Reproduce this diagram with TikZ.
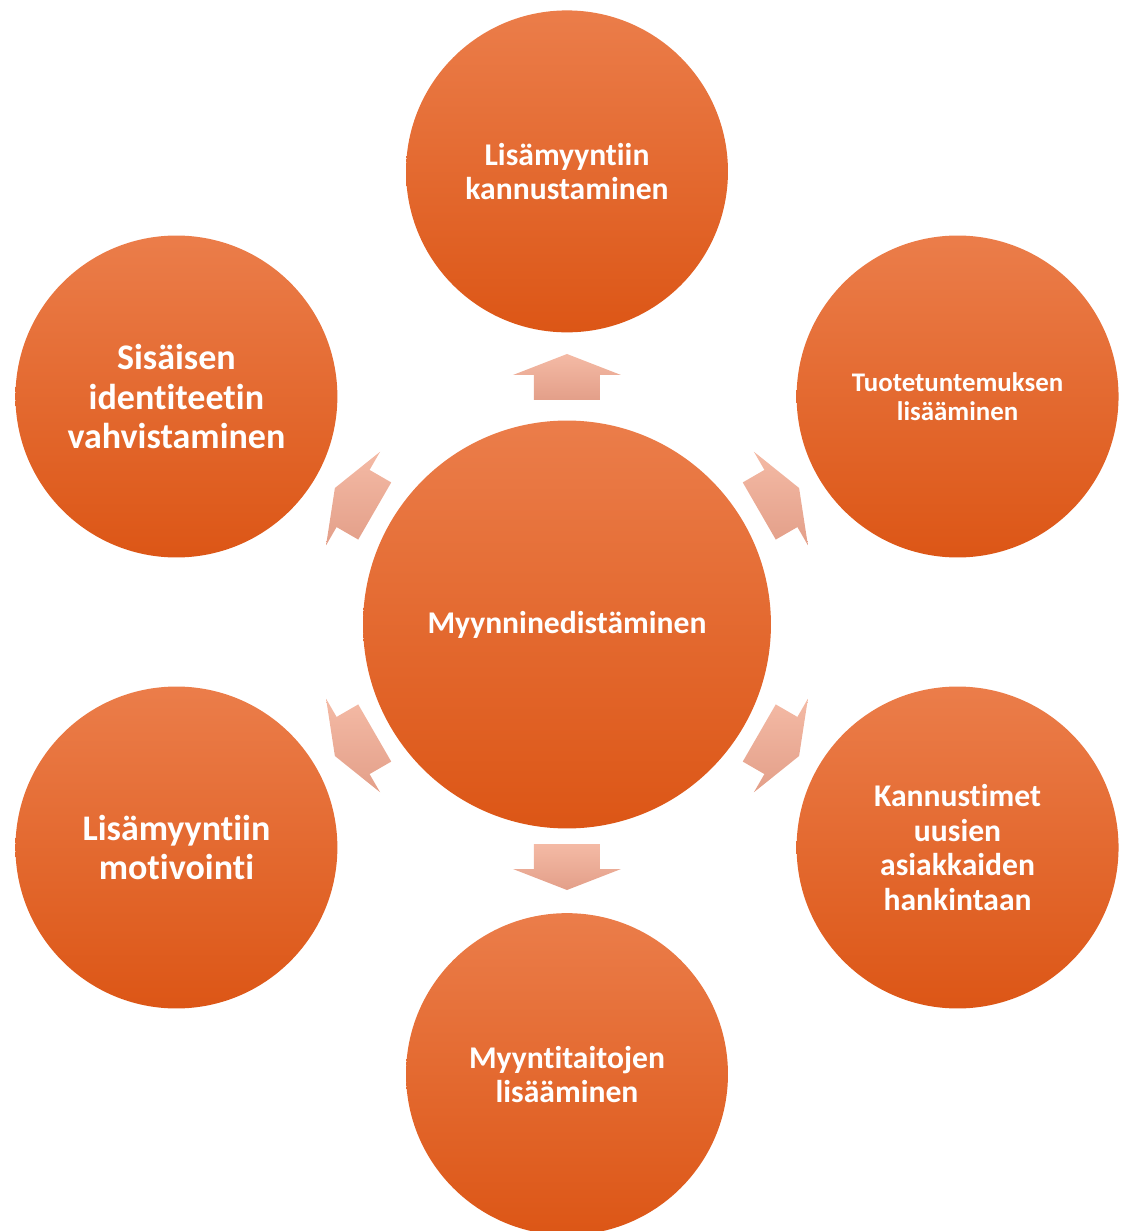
\documentclass[tikz,border=0pt]{standalone}
\usepackage{fontspec}
\setmainfont{Carlito}[RawFeature={-liga,-dlig,-clig,-calt}]
\usetikzlibrary{positioning,calc}

\definecolor{balltop}{HTML}{EB7D4A}
\definecolor{ballmid}{HTML}{EE6A2A}
\definecolor{ballbot}{HTML}{DC5616}
\definecolor{arrowtop}{HTML}{F4BAA5}
\definecolor{arrowbot}{HTML}{E39F89}

\tikzset{
  ball/.style={circle, inner sep=0pt, align=center, text=white,
    font=\bfseries, top color=balltop, middle color=ballmid, bottom color=ballbot},
  hub/.style={ball, minimum size=8.16cm},
  topic/.style={ball, minimum size=6.44cm}
}

\begin{document}
\begin{tikzpicture}[x=0.02cm,y=0.02cm]
	\useasboundingbox (-567,-609) rectangle (554,622);

	% centre and the six topics around it
	\node (hub) [hub, font=\bfseries\fontsize{18}{21}\selectfont, yshift=-0.05cm] {Myynninedistäminen};
	\node (up) [topic, above=1.75cm of hub, font=\bfseries\fontsize{18}{19.4}\selectfont]
		{Lisämyyntiin\\kannustaminen};
	\node (down) [topic, below=1.68cm of hub, font=\bfseries\fontsize{18}{19.4}\selectfont]
		{Myyntitaitojen\\lisääminen};
	\node (upr) [topic, font=\bfseries\fontsize{15.3}{16.5}\selectfont] at (30:451)
		{Tuotetuntemuksen\\lisääminen};
	\node (downr) [topic, font=\bfseries\fontsize{18}{19.7}\selectfont] at (-30:451)
		{Kannustimet\\uusien\\asiakkaiden\\hankintaan};
	\node (upl) [topic, font=\bfseries\fontsize{20.5}{22.5}\selectfont] at (150:451)
		{Sisäisen\\identiteetin\\vahvistaminen};
	\node (downl) [topic, font=\bfseries\fontsize{20.5}{22.2}\selectfont] at (-150:451)
		{Lisämyyntiin\\motivointi};

	% block arrows pointing outwards, light on top
	\foreach \a in {90,30,-30,-90,-150,150}
		\shade[top color=arrowtop, bottom color=arrowbot]
			($(\a:222)+(\a-90:33)$) -- ($(\a:247)+(\a-90:33)$) -- ($(\a:247)+(\a-90:54)$)
			-- (\a:268) -- ($(\a:247)+(\a+90:54)$) -- ($(\a:247)+(\a+90:33)$)
			-- ($(\a:222)+(\a+90:33)$) -- cycle;
\end{tikzpicture}
\end{document}
